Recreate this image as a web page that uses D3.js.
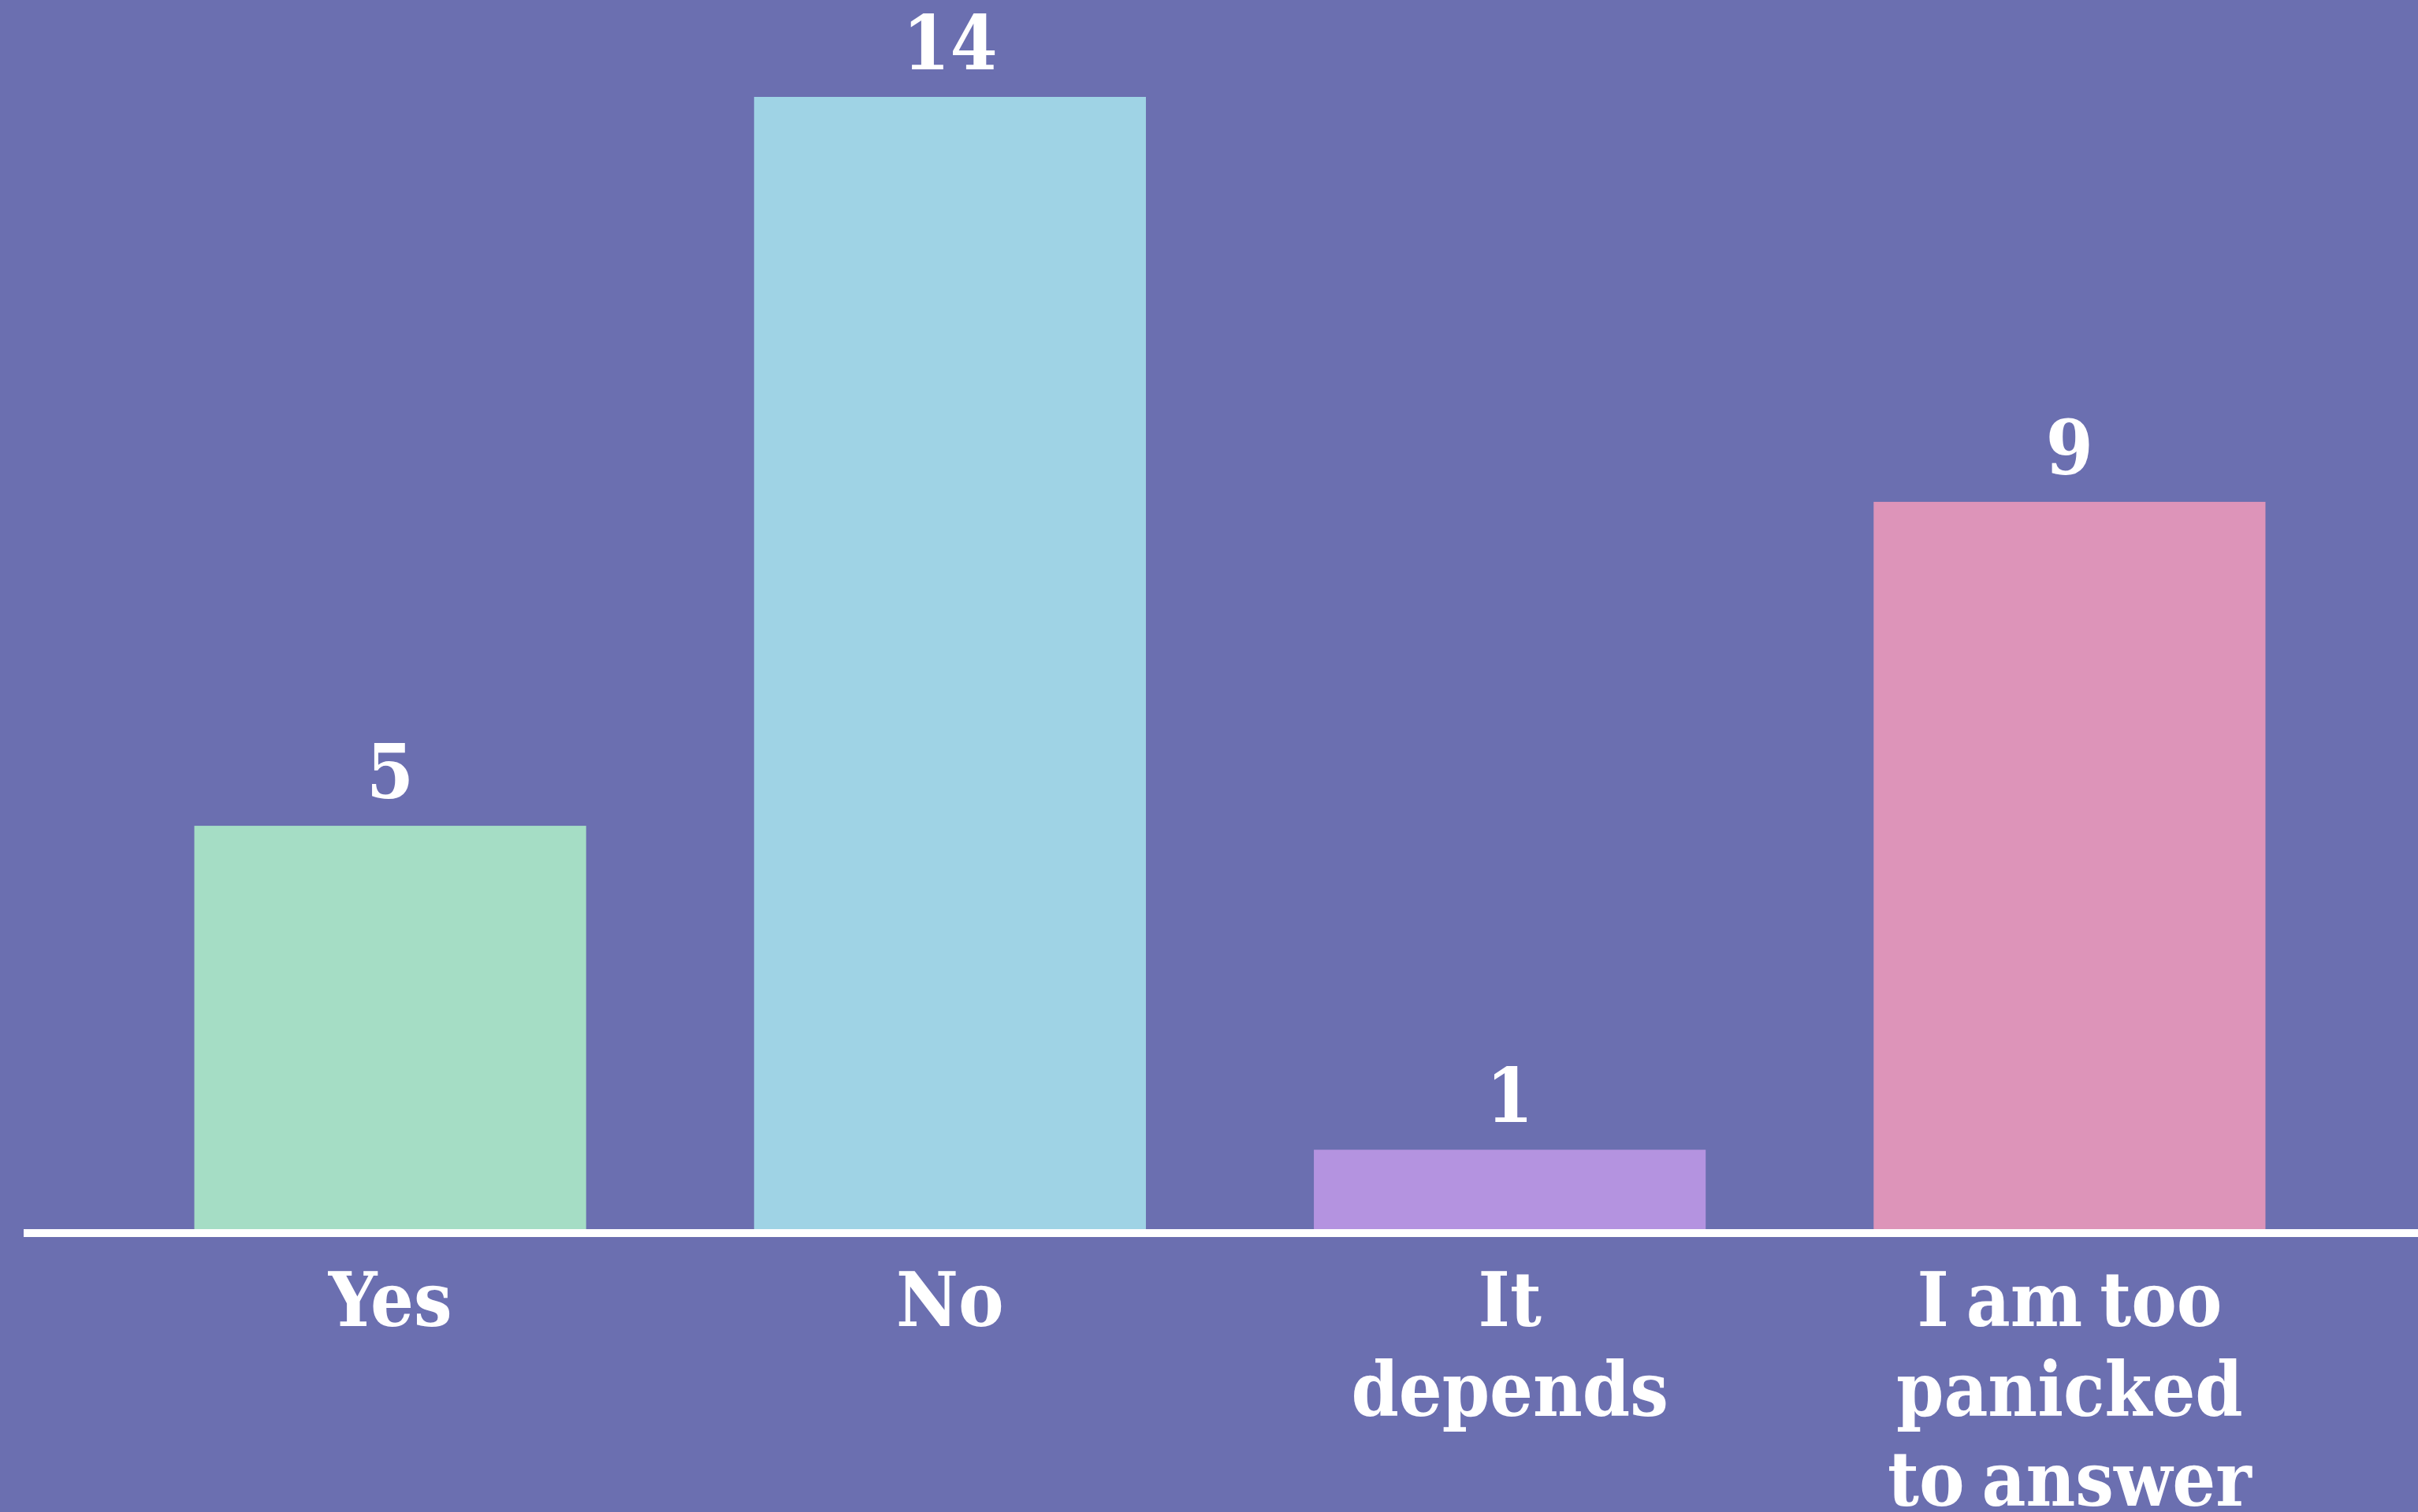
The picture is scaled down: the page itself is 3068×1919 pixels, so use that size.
<!DOCTYPE html>
<html>
<head>
<meta charset="utf-8">
<script src="https://cdn.jsdelivr.net/npm/d3@7"></script>
<style>
  html, body { margin: 0; padding: 0; background: #6b6fb0; overflow: hidden; }
  svg { display: block; }
  text { font-stretch: condensed; }
</style>
</head>
<body>
<svg id="chart"></svg>
<script>
// survey answers
const categories = ["Yes", "No", "It depends", "I am too panicked to answer"]
const counts = [5, 14, 1, 9]
const barColors = ["#a5ddc5", "#9fd3e5", "#b493e0", "#dd94b9"]
// how each category label wraps under the axis
const labelLines = [["Yes"], ["No"], ["It", "depends"], ["I am too", "panicked", "to answer"]]

const W = 3068, H = 1919
const svg = d3.select("#chart").attr("width", W).attr("height", H)

svg.append("rect").attr("width", W).attr("height", H).attr("fill", "#6b6fb0")

const x = d3.scaleBand()
  .domain(categories)
  .range([140, 2981])
  .paddingInner(0.3)
  .paddingOuter(0.15)

const y = d3.scaleLinear()
  .domain([0, 14])
  .range([1562, 123])

const font = "'DejaVu Serif Condensed', 'DejaVu Serif', serif"

svg.selectAll(".bar")
  .data(categories)
  .enter().append("rect")
  .attr("class", "bar")
  .attr("x", d => x(d))
  .attr("y", (d, i) => y(counts[i]))
  .attr("width", x.bandwidth())
  .attr("height", (d, i) => y(0) - y(counts[i]))
  .attr("fill", (d, i) => barColors[i])

// baseline
const xAxis = d3.axisBottom(x).tickSize(0).tickFormat("")
const axisG = svg.append("g")
  .attr("transform", "translate(0," + (y(0) + 3) + ")")
  .call(xAxis)
axisG.select(".domain").remove()
axisG.append("line")
  .attr("x1", 30).attr("x2", W)
  .attr("stroke", "#ffffff")
  .attr("stroke-width", 10)

// value labels
svg.selectAll(".value")
  .data(categories)
  .enter().append("text")
  .attr("class", "value")
  .attr("x", d => x(d) + x.bandwidth() / 2)
  .attr("y", (d, i) => y(counts[i]) - 35)
  .attr("text-anchor", "middle")
  .attr("fill", "#ffffff")
  .attr("font-family", font)
  .attr("font-weight", "bold")
  .attr("font-size", 96)
  .text((d, i) => counts[i])

// category labels
const cat = svg.selectAll(".cat")
  .data(categories)
  .enter().append("text")
  .attr("class", "cat")
  .attr("text-anchor", "middle")
  .attr("fill", "#ffffff")
  .attr("font-family", font)
  .attr("font-weight", "bold")
  .attr("font-size", 96)
  .attr("word-spacing", -8)

cat.each(function(d, i) {
  const t = d3.select(this)
  labelLines[i].forEach((line, j) => {
    t.append("tspan")
      .attr("x", x(d) + x.bandwidth() / 2)
      .attr("y", 1683 + j * 114)
      .text(line)
  })
})
</script>
</body>
</html>
